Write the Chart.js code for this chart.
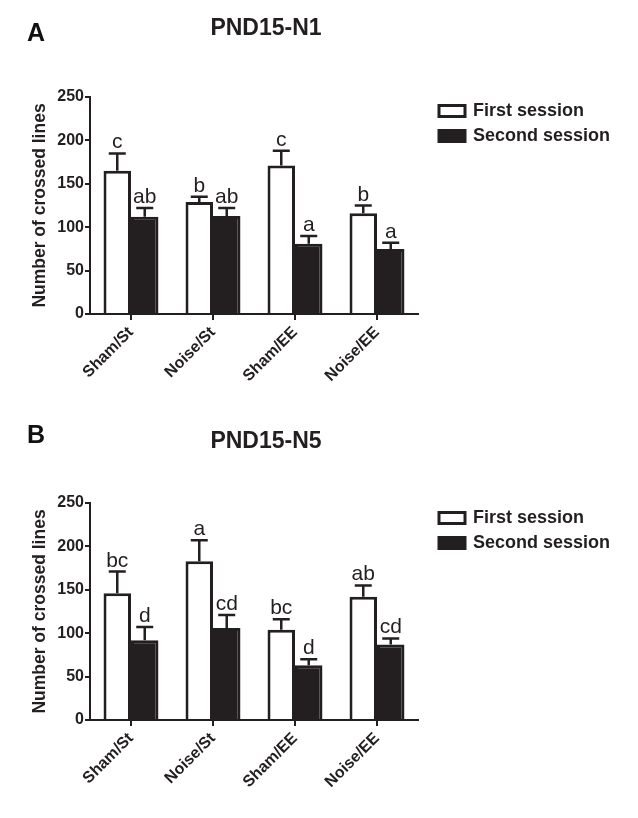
<!DOCTYPE html>
<html>
<head>
<meta charset="utf-8">
<script src="https://cdn.jsdelivr.net/npm/chart.js@4.4.1/dist/chart.umd.min.js"></script>
<style>
  html, body { margin: 0; padding: 0; background: #fff; }
  .panel { position: absolute; left: 0; width: 638px; height: 409px; }
</style>
</head>
<body>
<div class="panel" style="top:0"><canvas id="chartN1"></canvas></div>
<div class="panel" style="top:409px"><canvas id="chartN5"></canvas></div>
<script>
// ===== data =====
const categories = ["Sham/St", "Noise/St", "Sham/EE", "Noise/EE"];
const yTicks = [0, 50, 100, 150, 200, 250];

// PND15-N1
const n1First = [165, 129, 171, 116];
const n1FirstErr = [20, 6, 17, 9];
const n1FirstLetters = ["c", "b", "c", "b"];
const n1Second = [112, 113, 81, 75];
const n1SecondErr = [10, 9, 9, 7];
const n1SecondLetters = ["ab", "ab", "a", "a"];

// PND15-N5
const n5First = [146, 183, 104, 142];
const n5FirstErr = [25, 24, 12, 13];
const n5FirstLetters = ["bc", "a", "bc", "ab"];
const n5Second = [92, 106, 63, 87];
const n5SecondErr = [15, 15, 7, 7];
const n5SecondLetters = ["d", "cd", "d", "cd"];

const FONT = "'Liberation Sans', Arial, Helvetica, sans-serif";
const INK = "#231f20";

// ===== plugins =====
const errorBars = {
  id: "errorBars",
  afterDatasetsDraw(chart) {
    const ctx = chart.ctx;
    const yScale = chart.scales.y;
    chart.data.datasets.forEach((ds, i) => {
      const meta = chart.getDatasetMeta(i);
      meta.data.forEach((bar, j) => {
        const top = yScale.getPixelForValue(ds.data[j] + ds.errors[j]);
        ctx.save();
        ctx.strokeStyle = INK;
        ctx.lineWidth = 2.5;
        ctx.beginPath();
        ctx.moveTo(bar.x, bar.y);
        ctx.lineTo(bar.x, top);
        ctx.moveTo(bar.x - 8.5, top);
        ctx.lineTo(bar.x + 8.5, top);
        ctx.stroke();
        ctx.fillStyle = INK;
        ctx.font = "21px " + FONT;
        ctx.textAlign = "center";
        ctx.textBaseline = "alphabetic";
        ctx.fillText(ds.letters[j], bar.x, top - 5);
        ctx.restore();
      });
    });
  }
};

const panelText = {
  id: "panelText",
  afterDraw(chart, args, opts) {
    const ctx = chart.ctx;
    ctx.save();
    ctx.fillStyle = "#111";
    ctx.textBaseline = "middle";
    ctx.textAlign = "left";
    ctx.font = "bold 25px " + FONT;
    ctx.fillText(opts.letter, 27, opts.letterY);
    ctx.textAlign = "center";
    ctx.font = "bold 23px " + FONT;
    ctx.fillStyle = INK;
    ctx.fillText(opts.title, 266, opts.titleY);

    // legend
    ctx.textAlign = "left";
    ctx.font = "bold 18px " + FONT;
    chart.data.datasets.forEach((ds, i) => {
      const y = opts.legendY + i * 25;
      ctx.fillStyle = ds.backgroundColor;
      ctx.fillRect(439, y - 5.5, 26, 11);
      ctx.strokeStyle = INK;
      ctx.lineWidth = 3;
      ctx.strokeRect(439, y - 5.5, 26, 11);
      ctx.fillStyle = INK;
      ctx.fillText(ds.label, 473, y);
    });
    ctx.restore();
  }
};

function makeChart(id, p) {
  const ctx = document.getElementById(id).getContext("2d");
  return new Chart(ctx, {
    type: "bar",
    data: {
      labels: categories,
      datasets: [{
        label: "First session",
        data: p.first,
        errors: p.firstErr,
        letters: p.firstLetters,
        backgroundColor: "#ffffff",
        borderColor: INK,
        borderWidth: 3
      }, {
        label: "Second session",
        data: p.second,
        errors: p.secondErr,
        letters: p.secondLetters,
        backgroundColor: INK,
        borderColor: INK,
        borderWidth: 3
      }]
    },
    options: {
      responsive: true,
      maintainAspectRatio: false,
      animation: false,
      datasets: { bar: { categoryPercentage: 0.67, barPercentage: 1.0 } },
      layout: { padding: { top: p.top, right: 220, bottom: 0, left: 0 } },
      plugins: {
        legend: { display: false },
        tooltip: { enabled: false },
        panelText: { letter: p.letter, title: p.title, letterY: p.letterY, titleY: p.titleY, legendY: p.legendY }
      },
      scales: {
        x: {
          afterFit: s => { s.height = 409 - p.bottom; },
          grid: { display: true, drawOnChartArea: false, offset: false, color: INK, lineWidth: 2, tickLength: 6 },
          border: { display: true, color: INK, width: 2 },
          ticks: {
            color: INK, padding: 3, minRotation: 45, maxRotation: 45,
            font: { family: FONT, size: 16, weight: "bold" }
          }
        },
        y: {
          min: 0, max: 250,
          afterFit: s => { s.width = 90; },
          afterBuildTicks: s => { s.ticks = yTicks.map(v => ({ value: v })); },
          grid: { display: true, drawOnChartArea: false, color: INK, lineWidth: 2, tickLength: 5 },
          border: { display: true, color: INK, width: 2 },
          ticks: { color: INK, padding: 1, font: { family: FONT, size: 16, weight: "bold" } },
          title: {
            display: true, text: "Number of crossed lines", color: INK,
            padding: { top: 30, bottom: 0 },
            font: { family: FONT, size: 17.5, weight: "bold" }
          }
        }
      }
    },
    plugins: [errorBars, panelText]
  });
}

makeChart("chartN1", {
  first: n1First, firstErr: n1FirstErr, firstLetters: n1FirstLetters,
  second: n1Second, secondErr: n1SecondErr, secondLetters: n1SecondLetters,
  letter: "A", title: "PND15-N1", top: 97, bottom: 314,
  letterY: 34, titleY: 29, legendY: 111
});

makeChart("chartN5", {
  first: n5First, firstErr: n5FirstErr, firstLetters: n5FirstLetters,
  second: n5Second, secondErr: n5SecondErr, secondLetters: n5SecondLetters,
  letter: "B", title: "PND15-N5", top: 94, bottom: 311,
  letterY: 27, titleY: 33, legendY: 109
});
</script>
</body>
</html>
